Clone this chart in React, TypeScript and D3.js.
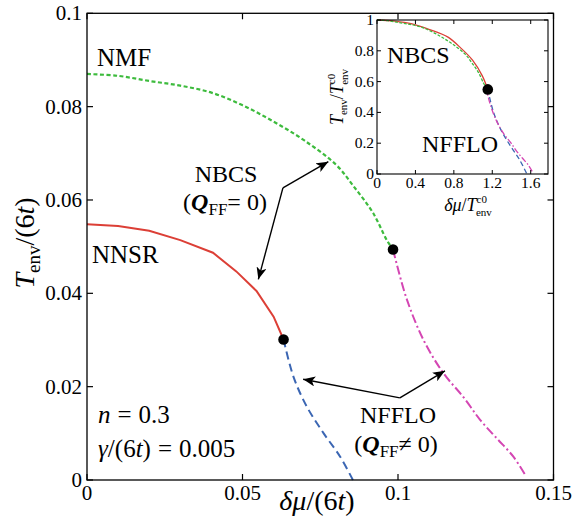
import React from "react";
import * as d3 from "d3";

// ---- data ----
const xTicks = [0, 0.05, 0.1, 0.15];
const xTickLabels = ["0", "0.05", "0.1", "0.15"];
const yTicks = [0, 0.02, 0.04, 0.06, 0.08, 0.1];
const yTickLabels = ["0", "0.02", "0.04", "0.06", "0.08", "0.1"];

// NMF / NBCS branch (green dotted)
const nmfCurve: [number, number][] = [
  [0, 0.087], [0.01, 0.0866], [0.02, 0.0855], [0.03, 0.0845], [0.04, 0.083],
  [0.05, 0.0803], [0.06, 0.0768], [0.07, 0.0727], [0.08, 0.0676], [0.086, 0.0627],
  [0.092, 0.0572], [0.0964, 0.0514], [0.0984, 0.0494],
];
// NNSR / NBCS branch (red solid)
const nnsrCurve: [number, number][] = [
  [0, 0.0548], [0.01, 0.0544], [0.02, 0.0534], [0.03, 0.0514], [0.0405, 0.0487],
  [0.048, 0.0447], [0.0545, 0.0405], [0.06, 0.035], [0.0632, 0.0301],
];
// NFFLO branch of NNSR (blue dashed)
const nnsrFflo: [number, number][] = [
  [0.0632, 0.0301], [0.0664, 0.0221], [0.0707, 0.0157], [0.0761, 0.01],
  [0.0814, 0.005], [0.0855, 0.0],
];
// NFFLO branch of NMF (magenta dash-dot)
const nmfFflo: [number, number][] = [
  [0.0984, 0.0494], [0.0995, 0.0465], [0.1029, 0.0386], [0.1082, 0.03],
  [0.1146, 0.0229], [0.1211, 0.0177], [0.1264, 0.0129], [0.1318, 0.0089],
  [0.1371, 0.005], [0.1409, 0.0011],
];
const tricritical: [number, number][] = [[0.0632, 0.0301], [0.0984, 0.0494]];
// zero-detuning critical temperatures used to normalise the inset
const tc0Nnsr = 0.0548;
const tc0Nmf = 0.087;

const insetXTicks = [0, 0.4, 0.8, 1.2, 1.6];
const insetXTickLabels = ["0", "0.4", "0.8", "1.2", "1.6"];
const insetYTicks = [0, 0.2, 0.4, 0.6, 0.8, 1];
const insetYTickLabels = ["0", "0.2", "0.4", "0.6", "0.8", "1"];

// arrows: [from junction, to tip] in data coords
const arrows: [[number, number], [number, number]][] = [
  [[0.063, 0.0626], [0.0776, 0.0682]],
  [[0.063, 0.0626], [0.0551, 0.043]],
  [[0.1006, 0.0176], [0.0695, 0.0216]],
  [[0.1006, 0.0176], [0.1151, 0.0234]],
];

const RED = "#dc3f36";
const GREEN = "#3dbb3d";
const BLUE = "#3b66b3";
const MAGENTA = "#d446b3";
const FONT = '"Liberation Serif"';

export default function App() {
  const x = d3.scaleLinear().domain([0, 0.15]).range([87, 553.5]);
  const y = d3.scaleLinear().domain([0, 0.1]).range([480, 13.3]);
  const smooth = d3.line<[number, number]>().x((d) => x(d[0])).y((d) => y(d[1])).curve(d3.curveCatmullRom);
  const lin = d3.line<[number, number]>().x((d) => x(d[0])).y((d) => y(d[1]));

  const ix = d3.scaleLinear().domain([0, 1.78]).range([377, 548]);
  const iy = d3.scaleLinear().domain([0, 1]).range([174, 20]);
  const iline = (tc: number) =>
    d3.line<[number, number]>().x((d) => ix(d[0] / tc)).y((d) => iy(d[1] / tc)).curve(d3.curveCatmullRom);

  const tickLen = 6;
  const iTick = 4;
  const ts = { fontFamily: FONT };

  return (
    <svg width={573} height={519} style={{ position: "absolute", left: 0, top: 0, background: "#fff" }}>
      <defs>
        <marker id="ah" viewBox="0 0 12 10" refX="12" refY="5" markerWidth="12" markerHeight="10" markerUnits="userSpaceOnUse" orient="auto">
          <path d="M0,0 L12,5 L0,10 L3,5 Z" fill="#000" />
        </marker>
      </defs>
      <rect x={0} y={0} width={573} height={519} fill="#fff" />

      {/* main curves */}
      <path d={smooth(nmfCurve) || ""} fill="none" stroke={GREEN} strokeWidth={2.2} strokeDasharray="4,2.5" />
      <path d={lin(nnsrCurve) || ""} fill="none" stroke={RED} strokeWidth={2} />
      <path d={smooth(nnsrFflo) || ""} fill="none" stroke={BLUE} strokeWidth={2} strokeDasharray="8,4.5" />
      <path d={smooth(nmfFflo) || ""} fill="none" stroke={MAGENTA} strokeWidth={2} strokeDasharray="9,3,2,3" />
      {tricritical.map((d, i) => (
        <circle key={i} cx={x(d[0])} cy={y(d[1])} r={5.3} fill="#000" />
      ))}

      {/* main frame and ticks */}
      <rect x={x(0)} y={y(0.1)} width={x(0.15) - x(0)} height={y(0) - y(0.1)} fill="none" stroke="#000" strokeWidth={1.3} />
      {xTicks.map((t, i) => (
        <g key={"xt" + i}>
          <line x1={x(t)} x2={x(t)} y1={y(0)} y2={y(0) - tickLen} stroke="#000" strokeWidth={1.2} />
          <line x1={x(t)} x2={x(t)} y1={y(0.1)} y2={y(0.1) + tickLen} stroke="#000" strokeWidth={1.2} />
          <text style={ts} x={x(t)} y={y(0) + 20} fontSize={21} textAnchor="middle">{xTickLabels[i]}</text>
        </g>
      ))}
      {yTicks.map((t, i) => (
        <g key={"yt" + i}>
          <line x1={x(0)} x2={x(0) + tickLen} y1={y(t)} y2={y(t)} stroke="#000" strokeWidth={1.2} />
          <line x1={x(0.15)} x2={x(0.15) - tickLen} y1={y(t)} y2={y(t)} stroke="#000" strokeWidth={1.2} />
          <text style={ts} x={x(0) - 5} y={y(t) + 7} fontSize={21} textAnchor="end">{yTickLabels[i]}</text>
        </g>
      ))}

      {/* axis titles */}
      <text style={ts} x={317} y={510} fontSize={28} textAnchor="middle">
        <tspan fontStyle="italic">δμ</tspan>
        <tspan>/(6</tspan>
        <tspan fontStyle="italic">t</tspan>
        <tspan>)</tspan>
      </text>
      <text style={ts} transform="translate(34,243) rotate(-90)" fontSize={28} textAnchor="middle">
        <tspan fontStyle="italic">T</tspan>
        <tspan fontSize={19} dy={6}>env</tspan>
        <tspan dy={-6}>/(6</tspan>
        <tspan fontStyle="italic">t</tspan>
        <tspan>)</tspan>
      </text>

      {/* arrows */}
      {arrows.map((a, i) => (
        <line key={"ar" + i} x1={x(a[0][0])} y1={y(a[0][1])} x2={x(a[1][0])} y2={y(a[1][1])} stroke="#000" strokeWidth={1.4} markerEnd="url(#ah)" />
      ))}

      {/* annotations */}
      <text style={ts} x={97} y={66} fontSize={25}>NMF</text>
      <text style={ts} x={92} y={263} fontSize={25}>NNSR</text>
      <text style={ts} x={226} y={182} fontSize={24} textAnchor="middle">NBCS</text>
      <text style={ts} x={225} y={210} fontSize={24} textAnchor="middle">
        <tspan>(</tspan>
        <tspan fontStyle="italic" fontWeight="bold">Q</tspan>
        <tspan fontSize={17} dy={5}>FF</tspan>
        <tspan dy={-5}>= 0)</tspan>
      </text>
      <text style={ts} x={398} y={423} fontSize={24} textAnchor="middle">NFFLO</text>
      <text style={ts} x={396} y={452} fontSize={24} textAnchor="middle">
        <tspan>(</tspan>
        <tspan fontStyle="italic" fontWeight="bold">Q</tspan>
        <tspan fontSize={17} dy={5}>FF</tspan>
        <tspan dy={-5}>≠ 0)</tspan>
      </text>
      <text style={ts} x={98} y={423} fontSize={25}>
        <tspan fontStyle="italic">n</tspan>
        <tspan dx={7}>=</tspan>
        <tspan dx={7}>0.3</tspan>
      </text>
      <text style={ts} x={98} y={457} fontSize={25}>
        <tspan fontStyle="italic">γ</tspan>
        <tspan>/(6</tspan>
        <tspan fontStyle="italic">t</tspan>
        <tspan>)</tspan>
        <tspan dx={7}>=</tspan>
        <tspan dx={7}>0.005</tspan>
      </text>

      {/* inset */}
      <rect x={ix(0)} y={iy(1)} width={548 - ix(0)} height={iy(0) - iy(1)} fill="#fff" stroke="none" />
      <path d={iline(tc0Nnsr)(nnsrCurve) || ""} fill="none" stroke={RED} strokeWidth={1.3} />
      <path d={iline(tc0Nmf)(nmfCurve) || ""} fill="none" stroke={GREEN} strokeWidth={1.3} strokeDasharray="3,1.5" />
      <path d={iline(tc0Nnsr)(nnsrFflo) || ""} fill="none" stroke={BLUE} strokeWidth={1.3} strokeDasharray="5,3" />
      <path d={iline(tc0Nmf)(nmfFflo) || ""} fill="none" stroke={MAGENTA} strokeWidth={1.3} strokeDasharray="6,2,1.5,2" />
      <circle cx={ix(tricritical[0][0] / tc0Nnsr)} cy={iy(tricritical[0][1] / tc0Nnsr)} r={5.3} fill="#000" />
      <rect x={ix(0)} y={iy(1)} width={548 - ix(0)} height={iy(0) - iy(1)} fill="none" stroke="#000" strokeWidth={1.1} />
      {insetXTicks.map((t, i) => (
        <g key={"ixt" + i}>
          <line x1={ix(t)} x2={ix(t)} y1={iy(0)} y2={iy(0) - iTick} stroke="#000" strokeWidth={1} />
          <line x1={ix(t)} x2={ix(t)} y1={iy(1)} y2={iy(1) + iTick} stroke="#000" strokeWidth={1} />
          <text style={ts} x={ix(t)} y={iy(0) + 14} fontSize={15.5} textAnchor="middle">{insetXTickLabels[i]}</text>
        </g>
      ))}
      {insetYTicks.map((t, i) => (
        <g key={"iyt" + i}>
          <line x1={ix(0)} x2={ix(0) + iTick} y1={iy(t)} y2={iy(t)} stroke="#000" strokeWidth={1} />
          <line x1={548} x2={548 - iTick} y1={iy(t)} y2={iy(t)} stroke="#000" strokeWidth={1} />
          <text style={ts} x={ix(0) - 3} y={iy(t) + 5} fontSize={15.5} textAnchor="end">{insetYTickLabels[i]}</text>
        </g>
      ))}
      <text style={ts} x={387} y={63} fontSize={24}>NBCS</text>
      <text style={ts} x={422} y={152} fontSize={24}>NFFLO</text>
      <text style={ts} x={468} y={211} fontSize={18} textAnchor="middle">
        <tspan fontStyle="italic">δμ</tspan>
        <tspan>/</tspan>
        <tspan fontStyle="italic">T</tspan>
        <tspan fontSize={11} dy={-8}>c0</tspan>
        <tspan fontSize={11} dx={-11} dy={13}>env</tspan>
      </text>
      <text style={ts} transform="translate(343,97) rotate(-90)" fontSize={18} textAnchor="middle">
        <tspan fontStyle="italic">T</tspan>
        <tspan fontSize={11} dy={4}>env</tspan>
        <tspan dy={-4}>/</tspan>
        <tspan fontStyle="italic">T</tspan>
        <tspan fontSize={11} dy={-8}>c0</tspan>
        <tspan fontSize={11} dx={-11} dy={13}>env</tspan>
      </text>
    </svg>
  );
}
